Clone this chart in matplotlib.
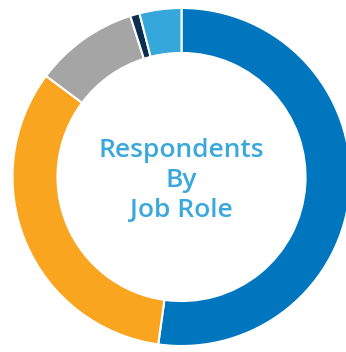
import matplotlib.pyplot as plt

# Respondents by job role (share of total, %)
roles = ["Role A", "Role B", "Role C", "Role D", "Role E"]
shares = [52.2, 33.0, 9.9, 0.9, 4.0]
colors = ["#0076BE", "#F9A51F", "#A5A5A5", "#0B2D50", "#35A7DB"]

fig = plt.figure(figsize=(3.46, 3.52), dpi=100)
ax = fig.add_axes([12.5 / 346, 6 / 352, 338 / 346, 338 / 352])

ax.pie(shares, colors=colors, startangle=90, counterclock=False, radius=1,
       wedgeprops=dict(width=0.266, edgecolor="white", linewidth=1.5))
ax.set_xlim(-1, 1)
ax.set_ylim(-1, 1)
ax.set_aspect("auto")
ax.axis("off")

ax.text(0, -0.02, "Respondents\nBy\nJob Role", ha="center", va="center",
        fontsize=19, color="#3AA8DC", family="Open Sans", weight="semibold",
        linespacing=1.25)

fig.savefig("out.png", dpi=100)
